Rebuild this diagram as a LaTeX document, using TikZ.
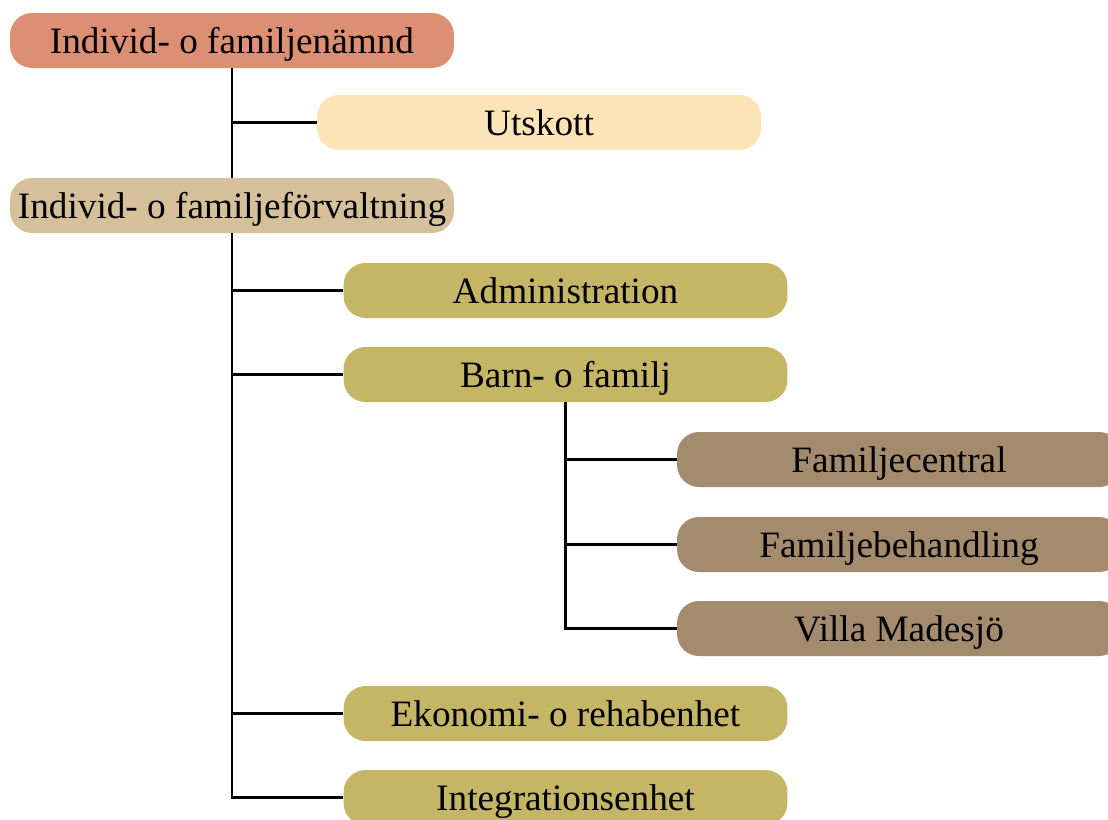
\documentclass[tikz,border=0pt]{standalone}
\usepackage{fontspec}
\setmainfont{Liberation Serif}
\definecolor{namndcol}{RGB}{221,143,116}
\definecolor{utskcol}{RGB}{252,228,182}
\definecolor{forvcol}{RGB}{213,192,154}
\definecolor{enhcol}{RGB}{197,182,102}
\definecolor{famcol}{RGB}{164,139,110}
\tikzset{
  orgbox/.style={rectangle,rounded corners=0.44cm,minimum width=8.88cm,
    minimum height=1.1cm,inner sep=0pt,text height=0.65cm,text depth=0.15cm,
    font=\fontsize{21.2pt}{25pt}\selectfont},
  orgline/.style={line width=1.3pt}
}
\begin{document}
\begin{tikzpicture}[x=0.02cm,y=-0.02cm]
\useasboundingbox (0,0) rectangle (1108,819);
% boxes
\node[orgbox,fill=namndcol] (namnd) at (232,40.5) {Individ- o familjenämnd};
\node[orgbox,fill=utskcol] (utskott) at (539,122.5) {Utskott};
\node[orgbox,fill=forvcol] (forv) at (232,205.5) {Individ- o familjeförvaltning};
\node[orgbox,fill=enhcol] (admin) at (565.5,290.5) {Administration};
\node[orgbox,fill=enhcol] (barn) at (565.5,374.5) {Barn- o familj};
\node[orgbox,fill=famcol] (famc) at (899,459.5) {Familjecentral};
\node[orgbox,fill=famcol] (famb) at (899,544.5) {Familjebehandling};
\node[orgbox,fill=famcol] (villa) at (899,628.5) {Villa Madesjö};
\node[orgbox,fill=enhcol] (ekon) at (565.5,713.5) {Ekonomi- o rehabenhet};
\node[orgbox,fill=enhcol] (integ) at (565.5,797.5) {Integrationsenhet};
% lines
\draw[orgline] (namnd.south) -- (forv.north);
\draw[orgline] (namnd.south |- utskott.west) -- (utskott.west);
\draw[orgline] (forv.south) |- (integ.west);
\draw[orgline] (forv.south |- admin.west) -- (admin.west);
\draw[orgline] (forv.south |- barn.west) -- (barn.west);
\draw[orgline] (forv.south |- ekon.west) -- (ekon.west);
\draw[orgline] (barn.south) |- (villa.west);
\draw[orgline] (barn.south |- famc.west) -- (famc.west);
\draw[orgline] (barn.south |- famb.west) -- (famb.west);
\end{tikzpicture}
\end{document}
